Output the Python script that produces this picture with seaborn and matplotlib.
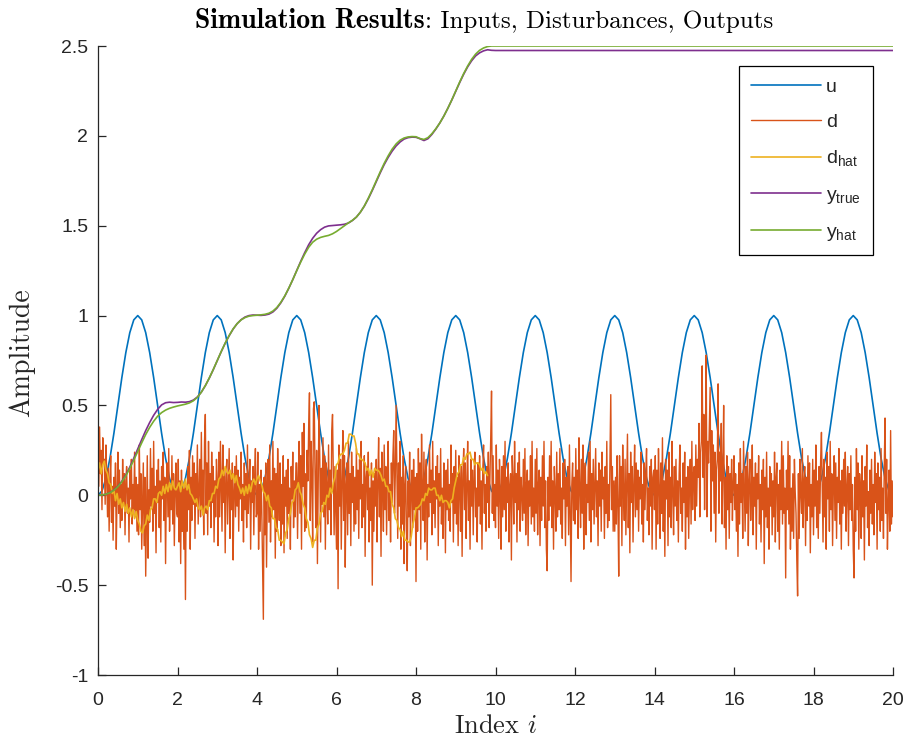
import numpy as np
import pandas as pd
import matplotlib
matplotlib.use("Agg")
import matplotlib.pyplot as plt
import seaborn as sns

# ---------------------------------------------------------------- data
# input u sampled every 0.1 (two rows per period of length 2)
u_vals = [
    0.000, 0.024, 0.095, 0.206, 0.345, 0.500, 0.655, 0.794, 0.905, 0.976,
    1.000, 0.976, 0.905, 0.794, 0.655, 0.500, 0.345, 0.206, 0.095, 0.024,
    0.000, 0.024, 0.095, 0.206, 0.345, 0.500, 0.655, 0.794, 0.905, 0.976,
    1.000, 0.976, 0.905, 0.794, 0.655, 0.500, 0.345, 0.206, 0.095, 0.024,
    0.000, 0.024, 0.095, 0.206, 0.345, 0.500, 0.655, 0.794, 0.905, 0.976,
    1.000, 0.976, 0.905, 0.794, 0.655, 0.500, 0.345, 0.206, 0.095, 0.024,
    0.000, 0.024, 0.095, 0.206, 0.345, 0.500, 0.655, 0.794, 0.905, 0.976,
    1.000, 0.976, 0.905, 0.794, 0.655, 0.500, 0.345, 0.206, 0.095, 0.024,
    0.000, 0.024, 0.095, 0.206, 0.345, 0.500, 0.655, 0.794, 0.905, 0.976,
    1.000, 0.976, 0.905, 0.794, 0.655, 0.500, 0.345, 0.206, 0.095, 0.024,
    0.000, 0.024, 0.095, 0.206, 0.345, 0.500, 0.655, 0.794, 0.905, 0.976,
    1.000, 0.976, 0.905, 0.794, 0.655, 0.500, 0.345, 0.206, 0.095, 0.024,
    0.000, 0.024, 0.095, 0.206, 0.345, 0.500, 0.655, 0.794, 0.905, 0.976,
    1.000, 0.976, 0.905, 0.794, 0.655, 0.500, 0.345, 0.206, 0.095, 0.024,
    0.000, 0.024, 0.095, 0.206, 0.345, 0.500, 0.655, 0.794, 0.905, 0.976,
    1.000, 0.976, 0.905, 0.794, 0.655, 0.500, 0.345, 0.206, 0.095, 0.024,
    0.000, 0.024, 0.095, 0.206, 0.345, 0.500, 0.655, 0.794, 0.905, 0.976,
    1.000, 0.976, 0.905, 0.794, 0.655, 0.500, 0.345, 0.206, 0.095, 0.024,
    0.000, 0.024, 0.095, 0.206, 0.345, 0.500, 0.655, 0.794, 0.905, 0.976,
    1.000, 0.976, 0.905, 0.794, 0.655, 0.500, 0.345, 0.206, 0.095, 0.024,
    0.000,
]
u_step = 0.1

# disturbance d, in hundredths, sampled every 0.02 (two rows per unit of time)
d_cents = [
    30, 5, 38, 12, 25, -8, 32, 18, 20, -5, 28, 10, -12, 15, -20, 8, 22, -15, 5, -25, 10, -6, 18, -30, 2,
    24, -10, 14, -18, 6, -14, 20, -4, 12, -22, 8, 16, -10, 4, -26, 14, -2, 20, -16, 6, -8, 24, -12, 10, -20,
    6, -22, 28, -8, 12, -30, -5, 18, -28, 10, -45, -12, 22, -35, 3, -15, 26, -6, 15, -20, 30, -10, 5, -32, 14,
    -4, 20, -18, 8, -26, 16, -2, 24, -14, 10, -38, 4, 18, -12, 26, -20, 6, -8, 22, -16, 12, -28, 2, 18, -10,
    -12, 20, -26, 8, -38, 14, -20, 4, -30, 6, -58, 4, -20, 16, -8, 25, -30, 10, -14, 22, -5, 18, -24, 12, -6,
    28, -16, 2, 20, -12, 35, -8, 14, -22, 30, 45, -10, 18, -22, 30, -6, 12, -18, 24, -4, 16, -26, 8, -12, 20,
    8, -28, 24, -12, 30, 5, -20, 28, -4, 14, -32, 10, 20, -16, 6, 26, -24, 12, -8, 18, -36, 2, 16, -12, 22,
    -6, 14, -20, 10, -2, 24, -14, 6, -26, 18, -8, 12, -18, 28, -10, 4, 20, -30, 8, -4, 16, -22, 10, 26, -12,
    -10, 24, -30, 6, -20, 14, -8, -40, -69, 10, -22, 18, -40, 4, 20, -15, 28, -26, 8, -12, 30, -8, 15, -35, 12,
    -20, 26, 2, -14, 18, -28, 6, -16, 22, -32, 10, -6, 14, -24, 20, -10, 4, -30, 16, -2, 24, -18, 8, -12, 18,
    18, -24, 10, 30, -10, 22, -30, 35, 5, 40, -20, 12, -18, 25, 8, 38, 57, -14, 30, 10, -26, 48, 52, 12, -18,
    25, -38, 8, 50, 20, -26, 15, -5, 32, -12, 22, -30, 18, 4, -16, 28, -8, 14, -22, 36, 45, 10, -22, 16, -6,
    -30, 14, -52, 28, -6, 20, -30, 8, 36, -14, 22, -40, 6, 18, -22, 30, -10, 12, -28, 24, -4, 16, -20, 10, -16,
    26, -8, 14, -24, 20, -2, 30, -18, 6, -12, 22, -34, 10, 16, -8, 24, -26, 4, -14, 18, -50, 8, -20, 12, -6,
    20, -26, 8, 32, -12, 15, -34, 24, 4, -20, 28, -8, 16, -22, 10, 30, -14, 6, -26, 18, -4, 22, 36, -10, 12,
    50, 12, -24, 18, -6, 30, -30, 10, -16, 22, -38, 6, 16, -20, -42, 8, -12, 24, -28, 4, 14, -18, 20, -8, 10,
    -48, 12, -20, 26, -8, 18, -30, 34, 2, -14, 24, -26, 10, 20, -36, 6, -12, 28, -4, 14, -22, 30, -10, 8, -18,
    16, -2, 22, -28, 12, -6, 26, -16, 4, -24, 18, 10, -32, 14, -8, 20, -14, 6, -20, 28, -4, 12, -26, 16, -10,
    25, -16, 10, -28, 22, 4, -20, 16, -34, 12, 26, -8, 18, -24, 6, 30, -14, 8, -30, 20, -6, 14, -22, 10, 24,
    -12, 4, -26, 18, -6, 22, -16, 8, -30, 14, 28, -10, 6, -20, 16, -4, 24, -18, 10, 32, 58, -10, 22, -14, 6,
    -18, 28, -6, 14, -24, 20, 4, -30, 16, -12, 22, -8, 30, -20, 10, -4, 18, -26, 6, 12, -36, 22, 8, -16, 30,
    -4, 12, -26, 18, -8, 24, -20, 10, 2, -14, 20, -10, 26, -22, 6, 14, -28, 8, -6, 22, -16, 30, -12, 4, -20,
    20, -10, 26, -22, 6, 14, -28, 10, -14, 22, -6, 30, -18, 8, -30, -42, 10, -14, 22, -6, 30, -18, 8, -30, 16,
    2, -20, 24, -12, 12, -8, 26, -16, 4, -24, 18, -2, 20, -28, 10, -6, 16, -22, 28, -10, -48, 6, 18, -14, 10,
    -16, 26, -8, 14, -24, 32, 4, -18, 20, -10, 28, -30, 10, 18, -22, 6, -4, 24, -14, 30, -26, 12, -8, 20, -16,
    4, 26, -12, 8, -28, 18, -6, 14, -20, 24, -2, 10, -24, 16, -10, 30, -18, 6, -14, 22, 56, -8, 16, -20, 8,
    -20, 10, -16, 22, -6, -45, 22, -6, 16, -28, 28, 2, -14, 20, -22, 8, 34, -18, 12, -32, 24, -4, 16, -26, 6,
    28, -12, 18, -8, 14, -20, 10, -2, 24, -16, 6, -26, 18, -8, 12, 26, -14, 4, -22, 16, -6, 20, -30, 10, 14,
    -8, 22, -30, 14, -16, 26, 4, -24, 18, -10, 32, -20, 8, -34, 20, -2, 14, -28, 24, -12, 10, -18, 30, 2, -22,
    16, -6, 20, -14, 8, -26, 12, 28, -10, 4, -20, 18, -4, 24, -30, 10, -12, 16, -24, 6, 20, -16, 30, -8, 12,
    16, -14, 28, -6, 20, 10, 40, -12, 24, 30, 72, 10, 45, -8, 30, 78, -12, 30, 18, 40, 60, -20, 36, 8, 28,
    -10, 24, -26, 14, 20, 62, -10, 24, 8, 40, -16, 14, 50, -18, 10, -30, 22, -8, 16, -24, 12, -4, 20, -14, 6,
    22, -8, 12, -20, 6, -34, 18, -16, 26, -4, 12, -24, 30, 6, -20, 16, -10, 24, -28, 8, 20, -14, 2, 28, -22,
    10, -6, 18, -30, 12, -2, 22, -16, 6, -26, 14, -8, 20, -38, 10, -12, 24, -18, 4, -30, 16, -6, 12, -22, 8,
    -12, 24, -26, 10, 18, -20, 6, -30, 14, -8, 30, -16, 22, -10, 4, -46, 14, -8, 30, -16, 22, -30, 4, -20, 12,
    -24, 20, 2, -10, -36, -56, 12, -24, 20, 2, -10, 26, -18, 8, 16, -28, 10, -14, 22, -6, 18, -32, 6, -12, 20,
    -22, 14, -6, 28, -18, 8, -24, 16, -10, 20, 35, 4, -26, 20, -12, 10, -30, 24, -2, 16, -20, 30, -8, 12, -28,
    6, 22, -14, 18, -24, 10, -4, 26, -16, 8, -30, 14, -10, 20, -6, 24, -20, 4, 16, -28, 12, -8, 22, -14, 6,
    -30, -46, 10, -20, 26, -8, 18, -30, 12, 4, -24, 22, -12, 8, -36, 16, -6, 28, -18, 2, -28, 14, -10, 20, -16,
    6, -22, 24, -4, 12, -30, 18, -8, 10, -20, 26, -14, 4, -24, 16, 43, -10, 20, -30, -6, 14, -20, 36, -16, 8,
    -12,
]
d_step = 0.02

# estimated disturbance d_hat, in hundredths, sampled every 0.04 up to t = 9.8
d_hat_cents = [
    14, 18, 12, 17, 19, 14, 12, 7, 6, 1, 3, -3, 1, -5, -2, -7, -4, -9, -5, -10, -7, -12, -8, -13, -9,
    -14, -16, -20, -21, -17, -16, -11, -14, -8, -7, -2, -2, -4, 1, 2, 0, 5, 1, 6, 2, 7, 3, 8, 4, 3,
    5, 7, 2, 8, 4, 9, 3, 6, 1, 0, -2, -4, -2, -7, -8, -6, -11, -7, -6, -8, -3, -3, 1, 1, 5,
    4, 9, 10, 14, 11, 16, 13, 12, 14, 9, 12, 7, 11, 6, 4, 1, 4, 0, 5, 1, 6, 2, 7, 9, 6,
    9, 11, 8, 6, 2, 1, -3, 0, -6, -7, -13, -13, -18, -19, -25, -25, -26, -27, -21, -19, -13, -10, -4, -3, 3,
    4, 7, 2, 0, -5, -7, -13, -15, -22, -24, -29, -25, -25, -18, -16, -10, -9, -4, -5, 0, -1, 4, 1, 7, 10,
    17, 18, 22, 23, 23, 25, 29, 29, 34, 34, 33, 33, 29, 23, 23, 20, 20, 19, 18, 14, 15, 11, 14, 10, 15,
    14, 14, 13, 11, 8, 9, 5, 5, 2, 2, -5, -7, -13, -14, -18, -19, -23, -20, -25, -25, -26, -26, -23, -16, -13,
    -7, -7, -6, -5, -2, -3, 1, 0, 4, 3, 3, 4, 4, 0, 0, -3, 0, -4, -3, -3, -4, -7, -3, -2, 4,
    8, 12, 13, 17, 17, 21, 20, 23, 23, 24, 20, 20, 17, 18, 18, 17, 14, 15, 12, 13, 11,
]
d_hat_step = 0.04

# outputs sampled every 0.1 up to t = 10, then held until t = 20
y_true_vals = [
    0.000, 0.002, 0.006, 0.015, 0.030, 0.050, 0.078, 0.113, 0.157, 0.206,
    0.258, 0.310, 0.360, 0.405, 0.445, 0.478, 0.503, 0.515, 0.518, 0.516,
    0.517, 0.519, 0.518, 0.521, 0.530, 0.547, 0.574, 0.610, 0.652, 0.699,
    0.749, 0.799, 0.846, 0.888, 0.925, 0.955, 0.977, 0.992, 1.000, 1.003,
    1.002, 1.001, 1.003, 1.008, 1.020, 1.041, 1.071, 1.108, 1.152, 1.200,
    1.251, 1.302, 1.350, 1.394, 1.430, 1.458, 1.478, 1.492, 1.499, 1.501,
    1.503, 1.505, 1.508, 1.515, 1.529, 1.548, 1.575, 1.609, 1.650, 1.696,
    1.745, 1.794, 1.840, 1.880, 1.915, 1.944, 1.966, 1.982, 1.990, 1.993,
    1.992, 1.984, 1.974, 1.984, 2.008, 2.038, 2.072, 2.110, 2.153, 2.199,
    2.248, 2.297, 2.343, 2.384, 2.418, 2.445, 2.462, 2.473, 2.479, 2.476,
    2.475, 2.475,
]
y_hat_vals = [
    0.000, 0.002, 0.006, 0.014, 0.028, 0.048, 0.075, 0.108, 0.150, 0.196,
    0.244, 0.292, 0.338, 0.378, 0.412, 0.440, 0.460, 0.474, 0.484, 0.491,
    0.497, 0.502, 0.507, 0.514, 0.526, 0.545, 0.574, 0.610, 0.653, 0.700,
    0.750, 0.800, 0.847, 0.889, 0.926, 0.955, 0.976, 0.989, 0.997, 1.000,
    1.002, 1.004, 1.007, 1.013, 1.025, 1.045, 1.074, 1.110, 1.153, 1.200,
    1.250, 1.298, 1.342, 1.380, 1.408, 1.425, 1.435, 1.441, 1.446, 1.455,
    1.468, 1.484, 1.500, 1.516, 1.530, 1.548, 1.575, 1.610, 1.653, 1.700,
    1.750, 1.800, 1.847, 1.889, 1.926, 1.955, 1.976, 1.988, 1.994, 1.996,
    1.995, 1.985, 1.980, 1.990, 2.012, 2.040, 2.072, 2.110, 2.153, 2.200,
    2.250, 2.300, 2.347, 2.389, 2.426, 2.455, 2.476, 2.489, 2.497, 2.500,
    2.500, 2.500,
]
y_step = 0.1
y_hold_end = 20.0

x_ticks = [0, 2, 4, 6, 8, 10, 12, 14, 16, 18, 20]
y_ticks = [-1, -0.5, 0, 0.5, 1, 1.5, 2, 2.5]
y_tick_labels = ["-1", "-0.5", "0", "0.5", "1", "1.5", "2", "2.5"]

title_bold = "Simulation Results"
title_rest = ": Inputs, Disturbances, Outputs"

colors = {
    "u": "#0072BD",
    "d": "#D95319",
    "d_hat": "#EDB120",
    "y_true": "#7E2F8E",
    "y_hat": "#77AC30",
}

# ---------------------------------------------------------------- tables
t_u = np.arange(len(u_vals)) * u_step
t_d = np.arange(len(d_cents)) * d_step
t_dh = np.arange(len(d_hat_cents)) * d_hat_step
t_y = np.append(np.arange(len(y_true_vals) - 1) * y_step, y_hold_end)

df_u = pd.DataFrame({"t": t_u, "v": u_vals})
df_d = pd.DataFrame({"t": t_d, "v": np.array(d_cents) / 100.0})
df_dh = pd.DataFrame({"t": t_dh, "v": np.array(d_hat_cents) / 100.0})
df_yt = pd.DataFrame({"t": t_y, "v": y_true_vals})
df_yh = pd.DataFrame({"t": t_y, "v": y_hat_vals})

# ---------------------------------------------------------------- style
sns.set_theme(style="ticks")
plt.rcParams["font.family"] = ["Liberation Sans", "DejaVu Sans"]
plt.rcParams["mathtext.fontset"] = "custom"
plt.rcParams["mathtext.rm"] = "Liberation Sans"
plt.rcParams["mathtext.it"] = "Liberation Sans:italic"
plt.rcParams["mathtext.bf"] = "Liberation Sans:bold"
plt.rcParams["axes.unicode_minus"] = False

W, H = 911, 744
fig = plt.figure(figsize=(W / 100, H / 100), dpi=100)
ax = fig.add_axes([98 / W, 69 / H, 795 / W, 629 / H])

sns.lineplot(data=df_u, x="t", y="v", ax=ax, color=colors["u"], lw=1.2, label="u")
sns.lineplot(data=df_d, x="t", y="v", ax=ax, color=colors["d"], lw=1.0, label="d")
sns.lineplot(data=df_dh, x="t", y="v", ax=ax, color=colors["d_hat"], lw=1.2,
             label=r"d$_{\mathrm{hat}}$")
sns.lineplot(data=df_yt, x="t", y="v", ax=ax, color=colors["y_true"], lw=1.2,
             label=r"y$_{\mathrm{true}}$")
sns.lineplot(data=df_yh, x="t", y="v", ax=ax, color=colors["y_hat"], lw=1.2,
             label=r"y$_{\mathrm{hat}}$")

ax.set_xlim(0, 20)
ax.set_ylim(-1, 2.5)
ax.set_xticks(x_ticks)
ax.set_xticklabels([str(v) for v in x_ticks])
ax.set_yticks(y_ticks)
ax.set_yticklabels(y_tick_labels)

spine_c = "#262626"
for side in ("top", "right"):
    ax.spines[side].set_visible(False)
for side in ("left", "bottom"):
    ax.spines[side].set_color(spine_c)
    ax.spines[side].set_linewidth(0.9)
ax.tick_params(axis="both", direction="in", length=5.5, width=0.9,
               color=spine_c, labelcolor=spine_c, labelsize=14)
ax.tick_params(axis="y", pad=7)
ax.tick_params(axis="x", pad=12)

ax.set_xlabel(r"Index $i$", fontfamily="cmr10", math_fontfamily="cm",
              fontsize=19, color=spine_c)
ax.xaxis.set_label_coords(0.5, -0.062)
ax.set_ylabel("Amplitude", fontfamily="cmr10", fontsize=20, color=spine_c)
ax.yaxis.set_label_coords(-0.079, 0.512)

# title: bold lead-in followed by the regular remainder, centred over the axes
t_bold = fig.text(0, 1 - 28 / H, title_bold, fontfamily="cmb10", fontsize=20,
                  va="baseline", ha="left", color="black")
t_rest = fig.text(0, 1 - 28 / H, title_rest, fontfamily="cmr10", fontsize=18,
                  va="baseline", ha="left", color="black")
fig.canvas.draw()
r = fig.canvas.get_renderer()
wb = t_bold.get_window_extent(r).width
wr = t_rest.get_window_extent(r).width
x0 = 484 - (wb + wr) / 2
t_bold.set_x(x0 / W)
t_rest.set_x((x0 + wb) / W)

leg = ax.legend(loc="upper right", bbox_to_anchor=(0.975, 0.968), fontsize=14,
                frameon=True, fancybox=False, framealpha=1, edgecolor="black",
                handlelength=3.6, handletextpad=0.25, labelspacing=0.9,
                borderpad=0.62, borderaxespad=0)
leg.get_frame().set_linewidth(0.9)

fig.savefig("out.png", dpi=100)
